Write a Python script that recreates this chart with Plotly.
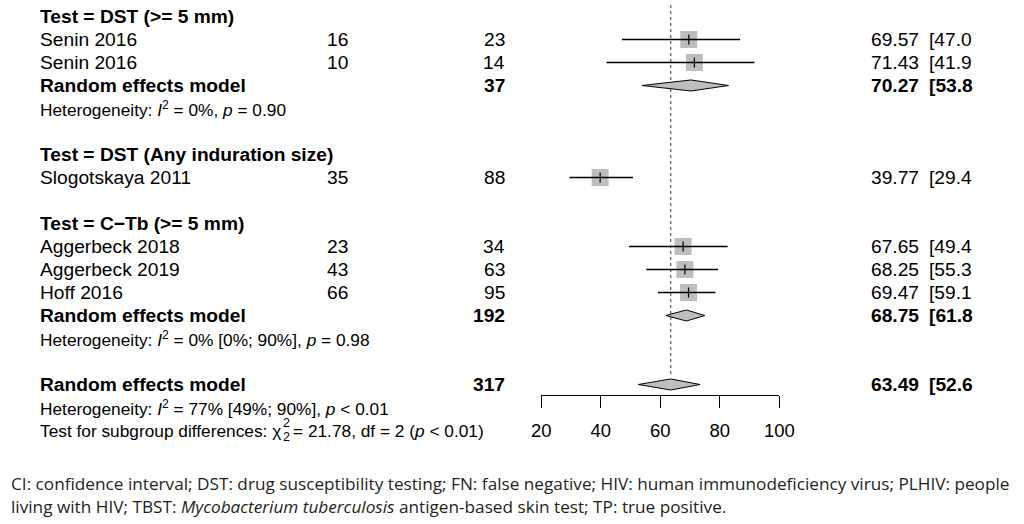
import plotly.graph_objects as go

W, H = 1024, 524

# ---------------- data ----------------
group_labels = ["Test = DST (>= 5 mm)", "Test = DST (Any induration size)", "Test = C\u2212Tb (>= 5 mm)"]
studies = ["Senin 2016", "Senin 2016", "Slogotskaya 2011", "Aggerbeck 2018", "Aggerbeck 2019", "Hoff 2016"]
study_group = [0, 0, 1, 2, 2, 2]
events = [16, 10, 35, 23, 43, 66]
totals = [23, 14, 88, 34, 63, 95]
est = [69.57, 71.43, 39.77, 67.65, 68.25, 69.47]
ci_lo = [47.08, 41.90, 29.44, 49.47, 55.30, 59.19]
ci_hi = [86.79, 91.61, 50.80, 82.61, 79.38, 78.51]
ci_txt = ["[47.0", "[41.9", "[29.4", "[49.4", "[55.3", "[59.1"]

# pooled (random effects) per subgroup; None where single study
sub_total = [37, None, 192]
sub_est = [70.27, None, 68.75]
sub_lo = [53.85, None, 61.85]
sub_hi = [82.90, None, 74.95]
sub_ci_txt = ["[53.8", None, "[61.8"]
sub_het = ["Heterogeneity: <i>I</i><sup>2</sup> = 0%, <i>p</i> = 0.90", None,
           "Heterogeneity: <i>I</i><sup>2</sup> = 0% [0%; 90%], <i>p</i> = 0.98"]

all_total = 317
all_est = 63.49
all_lo = 52.60
all_hi = 73.35
all_ci_txt = "[52.6"
all_het = "Heterogeneity: <i>I</i><sup>2</sup> = 77% [49%; 90%], <i>p</i> &lt; 0.01"
subgroup_test_prefix = "Test for subgroup differences: \u03c7"
subgroup_test_rest = "= 21.78, df = 2 (<i>p</i> &lt; 0.01)"

x_ticks = [20, 40, 60, 80, 100]

caption1 = ("CI: confidence interval; DST: drug susceptibility testing; FN: false negative; "
            "HIV: human immunodeficiency virus; PLHIV: people")
caption2 = ("living with HIV; TBST: <i>Mycobacterium tuberculosis</i> antigen-based skin test; "
            "TP: true positive.")

# ---------------- layout (target picture pixels -> page pixels) ----------------
IMG_OFF, IMG_SCALE = 13.0, 0.9726   # horizontal framing of the photographed page


def page_x(img_x):
    return max(0.0, (img_x - IMG_OFF) / IMG_SCALE)


ROW0, ROWH = 16.5, 23.0
X_LEFT, X_EV, X_TOT, X_EST, X_CI = page_x(41.7), page_x(351), page_x(507), page_x(870), page_x(928)
AX_L, AX_R, AX_Y = page_x(542.7), page_x(780.0), 395
X_CHI_SUP, X_CHI_REST = page_x(284.5), page_x(294.5)
FONT = "Liberation Sans, Arial, Helvetica, sans-serif"
FS, FS_HET = 19.2, 17.3
GRAY = "#bebebe"

# ---------------- build rows ----------------
rows = []
for g, glab in enumerate(group_labels):
    rows.append(("header", glab))
    for i, s in enumerate(studies):
        if study_group[i] == g:
            rows.append(("study", i))
    if sub_est[g] is not None:
        rows.append(("pooled", g))
        rows.append(("het", sub_het[g]))
    rows.append(("blank", None))
rows.append(("overall", None))
rows.append(("het", all_het))
rows.append(("test", None))

fig = go.Figure()
ann = []


def px(x):
    return x / W


def py(y):
    return 1 - y / H


def text(x, r, s, bold=False, anchor="left", size=FS):
    if bold:
        s = "<b>" + s + "</b>"
    ann.append(dict(x=px(x), xref="paper", y=r, yref="y", text=s, showarrow=False,
                    xanchor=anchor, yanchor="middle", borderpad=0,
                    font=dict(family=FONT, size=size, color="black")))


sq_x, sq_y, ci_x, ci_y = [], [], [], []
diamonds = []
overall_row = None
for r, (kind, p) in enumerate(rows):
    if kind == "header":
        text(X_LEFT, r, p, bold=True)
    elif kind == "study":
        i = p
        text(X_LEFT, r, studies[i])
        text(X_EV, r, str(events[i]), anchor="right")
        text(X_TOT, r, str(totals[i]), anchor="right")
        text(X_EST, r, f"{est[i]:.2f}")
        text(X_CI, r, ci_txt[i])
        sq_x.append(est[i]); sq_y.append(r)
        ci_x += [ci_lo[i], ci_hi[i], None]; ci_y += [r, r, None]
    elif kind == "pooled":
        g = p
        text(X_LEFT, r, "Random effects model", bold=True)
        text(X_TOT, r, str(sub_total[g]), bold=True, anchor="right")
        text(X_EST, r, f"{sub_est[g]:.2f}", bold=True)
        text(X_CI, r, sub_ci_txt[g], bold=True)
        diamonds.append((sub_lo[g], sub_est[g], sub_hi[g], r))
    elif kind == "het":
        text(X_LEFT, r, p, size=FS_HET)
    elif kind == "overall":
        overall_row = r
        text(X_LEFT, r, "Random effects model", bold=True)
        text(X_TOT, r, str(all_total), bold=True, anchor="right")
        text(X_EST, r, f"{all_est:.2f}", bold=True)
        text(X_CI, r, all_ci_txt, bold=True)
        diamonds.append((all_lo, all_est, all_hi, r))
    elif kind == "test":
        text(X_LEFT, r, subgroup_test_prefix, size=FS_HET)
        text(X_CHI_SUP, r - 0.32, "2", size=12.5)
        text(X_CHI_SUP, r + 0.27, "2", size=12.5)
        text(X_CHI_REST, r, subgroup_test_rest, size=FS_HET)

# reference dotted line at the overall estimate
fig.add_trace(go.Scatter(x=[all_est, all_est], y=[-0.5, overall_row - 0.4], mode="lines",
                         line=dict(color="#555555", width=1.2, dash="dot"), hoverinfo="skip"))
# study squares
fig.add_trace(go.Scatter(x=sq_x, y=sq_y, mode="markers",
                         marker=dict(symbol="square", size=17, color=GRAY, line=dict(width=0)),
                         hoverinfo="skip"))
# confidence intervals
fig.add_trace(go.Scatter(x=ci_x, y=ci_y, mode="lines", line=dict(color="black", width=1.3),
                         hoverinfo="skip"))
# point-estimate ticks
fig.add_trace(go.Scatter(x=sq_x, y=sq_y, mode="markers",
                         marker=dict(symbol="line-ns", size=7, line=dict(width=1.2, color="black")),
                         hoverinfo="skip"))
# pooled diamonds
for lo, m, hi, r in diamonds:
    h = 0.24
    fig.add_trace(go.Scatter(x=[lo, m, hi, m, lo], y=[r, r - h, r, r + h, r], mode="lines",
                             fill="toself", fillcolor=GRAY, line=dict(color="black", width=1),
                             hoverinfo="skip"))

# footnote
for yy, cap in [(483, caption1), (506, caption2)]:
    ann.append(dict(x=px(page_x(5)), xref="paper", y=py(yy), yref="paper", text=cap, showarrow=False,
                    xanchor="left", yanchor="middle", borderpad=0,
                    font=dict(family="Open Sans, sans-serif", size=17.2, color="#231f20")))

y_top = -ROW0 / ROWH
y_bot = (H - ROW0) / ROWH

fig.update_layout(
    width=W, height=H, autosize=False,
    margin=dict(l=0, r=0, t=0, b=0, pad=0),
    paper_bgcolor="white", plot_bgcolor="rgba(0,0,0,0)",
    showlegend=False,
    annotations=ann,
    xaxis=dict(domain=[px(AX_L), px(AX_R)], range=[20, 100], tickvals=x_ticks,
               ticks="outside", ticklen=12, tickwidth=1.3, tickcolor="black",
               showline=True, linecolor="black", linewidth=1.3, showgrid=False, zeroline=False,
               anchor="free", position=py(AX_Y), side="bottom",
               tickfont=dict(family=FONT, size=18.5, color="black"), ticklabelstandoff=6,
               fixedrange=True),
    yaxis=dict(domain=[0, 1], range=[y_bot, y_top], visible=False, fixedrange=True),
)

fig.write_html("out.html", config={"displayModeBar": False, "staticPlot": True},
               post_script="document.body.style.margin='0px';document.body.style.overflow='hidden';")
